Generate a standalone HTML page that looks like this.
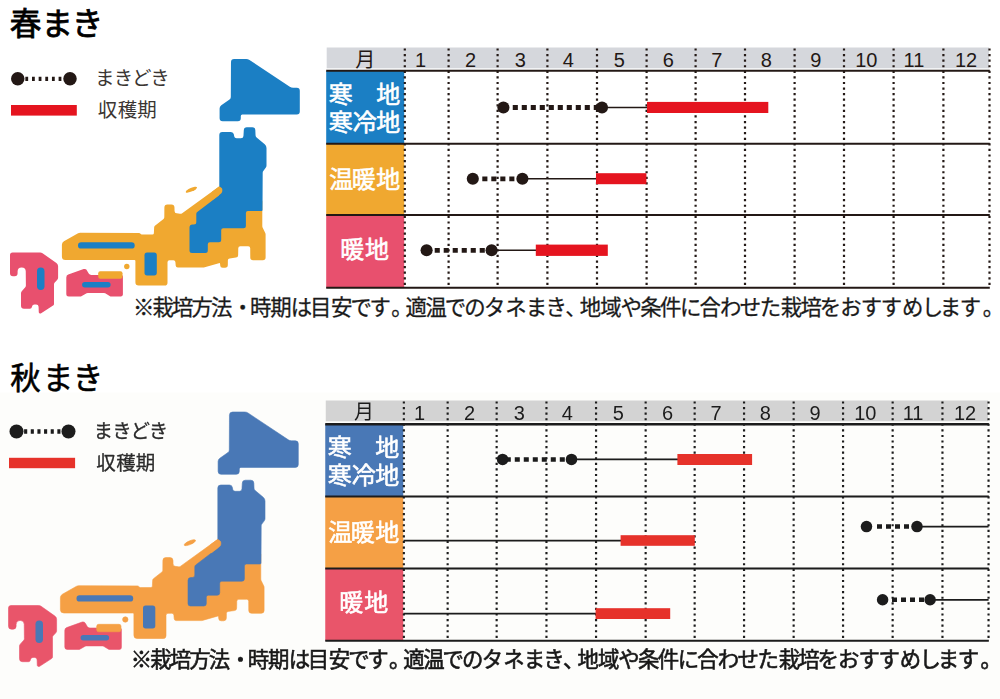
<!DOCTYPE html><html><head><meta charset="utf-8"><title>chart</title><style>html,body{margin:0;padding:0;background:#fff;font-family:"Liberation Sans",sans-serif}svg{display:block}text{font-family:"Liberation Sans","Noto Sans CJK JP",sans-serif}</style></head><body><svg width="1000" height="699" viewBox="0 0 1000 699" role="img" aria-label="春まき・秋まき 栽培カレンダー"><desc>春まき / 秋まき。凡例: まきどき、収穫期。月 1 2 3 4 5 6 7 8 9 10 11 12。寒地・寒冷地、温暖地、暖地。※栽培方法・時期は目安です。適温でのタネまき、地域や条件に合わせた栽培をおすすめします。</desc><defs><filter id="bl" x="-2%" y="-2%" width="104%" height="104%"><feGaussianBlur stdDeviation="0.5"/></filter></defs><text x="9.74 41.41 71.65" y="34.5" font-size="31.5" fill="#000" stroke="#000" stroke-width="0.8">春まき</text><line x1="25.35" y1="78.8" x2="65" y2="78.8" stroke="#231815" stroke-width="4.3" stroke-dasharray="2.8 3.85"/><circle cx="17.75" cy="78.8" r="6.75" fill="#231815"/><circle cx="70" cy="78.8" r="6.75" fill="#231815"/><rect x="11" y="105" width="65.8" height="10.6" fill="#e5141f"/><g fill="#3a3532"><text x="94.9 113.8 131.9 150.2" y="84.7" font-size="19.5">まきどき</text><text x="97.8 117.85 137.2" y="116.9" font-size="19.5">収穫期</text></g><g><path d="M179.99 213.84Q181 214 181.83 213.4L219.04 186.59Q219.3 186.4 219.62 186.4L223.66 186.4Q224 186.4 224.32 186.52L260.97 199.53Q262.3 200 262.3 201.41L262.3 226.06Q262.3 227 262.72 227.84L265.28 232.97Q265.6 233.6 265.6 234.31L265.6 257.5Q265.6 260.3 262.8 260.3L253.08 260.3Q250.3 260.3 250.28 257.52L250.21 248.29Q250.2 246.3 248.21 246.3L240.26 246.3Q238.3 246.3 238.26 248.26L238.14 255.14Q238.1 257.3 235.96 257.57L229.63 258.38Q227.9 258.6 227.88 260.34L227.83 265.03Q227.8 267.8 225.03 267.8L222.7 267.8Q220.2 267.8 220.15 265.3L220.13 264.1Q220.1 262.8 218.85 263.16L203.84 267.45Q203.3 267.6 202.74 267.6L177.72 267.6Q175.9 267.6 175.73 265.79L175.38 262.06Q175.2 260.2 173.33 260.25L169.45 260.35Q167.5 260.4 167.5 262.35L167.5 282.7Q167.5 285.5 164.7 285.5L138.6 285.5Q135.4 285.5 135.4 282.3L135.4 261Q135.4 260 134.4 260L65.4 260Q61.9 260 61.9 256.5L61.9 244.73Q61.9 242.4 63.93 241.25L78.08 233.22Q79 232.7 80.06 232.7L139.13 232.9Q139.5 232.9 139.78 233.14L141.22 234.36Q141.5 234.6 141.87 234.6L152.37 234.6Q153.8 234.6 153.87 233.17L154.16 227.21Q154.2 226.3 154.91 225.74L163.55 218.89Q164.3 218.3 164.31 217.34L164.38 207.58Q164.4 204.6 167.38 204.6L171.47 204.6Q174.4 204.6 174.47 207.53L174.55 210.91Q174.6 213 176.66 213.32Z" fill="#f0a830"/><ellipse cx="191.4" cy="189.7" rx="6.1" ry="1.8" transform="rotate(-23.6 191.4 189.7)" fill="#f0a830"/><circle cx="126.8" cy="266.5" r="2.7" fill="#f0a830"/><path d="M230.98 62.18Q231 59 234.18 59L246.19 59Q248 59 249.51 60L289.79 86.8Q291.3 87.8 293.11 87.8L296.8 87.8Q299.8 87.8 299.8 90.8L299.8 111.4Q299.8 114.4 296.8 114.4L242.3 114.4Q240.8 114.4 240.8 115.9L240.8 118.3Q240.8 121.3 237.8 121.3L222.6 121.3Q219.6 121.3 219.6 118.3L219.6 108.57Q219.6 106.5 221.29 105.3L229.54 99.49Q230.8 98.6 230.81 97.05Z" fill="#1b7fc4"/><path d="M219.3 135Q219.3 132 222.3 132L230.94 132Q233.5 132 233.9 134.53L234.17 136.19Q234.5 138.3 236.63 138.3L240.95 138.3Q243.3 138.3 243.45 135.96L243.82 130.01Q244 127.2 246.82 127.2L252.32 127.2Q255.2 127.2 255.32 130.07L255.54 135.28Q255.6 136.6 256.61 137.45L264.72 144.3Q266.5 145.8 266.5 148.12L266.5 165.47Q266.5 166.8 265.71 167.86L263.29 171.11Q262.7 171.9 262.69 172.89L262.51 210.01Q262.5 211 261.51 211L247.9 211Q245.9 211 245.9 213L245.9 225.7Q245.9 228.2 243.4 228.2L223.2 228.2Q221.2 228.2 221.2 230.2L221.2 239.7Q221.2 242.2 218.7 242.2L209.8 242.2Q207.8 242.2 207.8 244.2L207.8 250.5Q207.8 253 205.3 253L192 253Q189.5 253 189.5 250.5L189.5 227.5Q189.5 224.5 192.5 224.5L193.8 224.5Q196.3 224.5 196.3 222L196.3 213.93Q196.3 212.7 197.28 211.95L218.91 195.4Q219.3 195.1 219.3 194.61Z" fill="#1b7fc4"/><path d="M212 192.21Q212 191.7 212.41 191.4L218.74 186.81Q219.3 186.4 219.88 186.79L221.32 187.75Q222.3 188.4 222.3 189.58L222.3 191.12Q222.3 192.6 221.13 193.5L213.61 199.27Q212 200.5 212 198.47Z" fill="#f0a830"/><rect x="78" y="242.2" width="56.7" height="6.4" rx="3.2" fill='#1b7fc4'/><rect x="144.5" y="252.6" width="12.3" height="22.8" rx="2.6" fill='#1b7fc4'/><path d="M66.3 277.41Q66.3 275.3 68.28 274.58L83.65 269.04Q84.3 268.8 84.96 269.02L85.68 269.26Q86.4 269.5 86.78 270.15L88.73 273.51Q89.6 275 91.33 275L121.4 275Q122.9 275 122.9 276.5L122.9 294.6Q122.9 296.4 121.1 296.4L110.82 296.4Q110.4 296.4 110.04 296.18L105.2 293.26Q104.6 292.9 103.9 292.9L87.86 292.9Q87.2 292.9 86.63 293.22L81.34 296.21Q81 296.4 80.61 296.4L68.8 296.4Q66.3 296.4 66.3 293.9Z" fill="#e8506e"/><rect x="98.2" y="271.3" width="24.3" height="7.5" rx="2" fill="#f0a830"/><rect x="82.1" y="282" width="28.5" height="5.4" rx="2.7" fill='#1b7fc4'/><path d="M10 255Q10 252.5 12.5 252.5L40.22 252.5Q41.5 252.5 42.54 253.24L56.42 263.1Q58.1 264.3 58.1 266.36L58.1 277.82Q58.1 279 57.29 279.86L54.54 282.82Q54 283.4 54 284.19L54 303.91Q54 305 53.08 305.59L41.16 313.28Q40.5 313.7 39.78 313.4L39.4 313.25Q38.8 313 38.78 312.36L38.58 306.81Q38.5 304.4 36.09 304.4L34.48 304.4Q32.4 304.4 32.02 306.44L31.9 307.07Q31.6 308.7 29.94 308.7L24 308.7Q21 308.7 21 305.7L21 293.14Q21 292 21.76 291.15L25.26 287.22Q25.9 286.5 25.89 285.53L25.74 271.36Q25.7 267.4 21.74 267.4L21.6 267.4Q17.6 267.4 17.6 271.4L17.6 273.2Q17.6 276.2 14.6 276.2L13 276.2Q10 276.2 10 273.2Z" fill="#e8506e"/><rect x="37" y="267.5" width="7.5" height="22.5" rx="3.7" fill='#1b7fc4'/></g><rect x="326.7" y="47.5" width="662.3" height="20.8" fill="#d5d7dc"/><rect x="326.2" y="71" width="78" height="73" fill="#1b7fc4"/><rect x="326.2" y="144" width="78" height="71" fill="#f0a830"/><rect x="326.2" y="215" width="78" height="72.8" fill="#e8506e"/><line x1="404.8" y1="48.4" x2="404.8" y2="287.5" stroke="#231815" stroke-width="2.2" stroke-dasharray="2.2 3.38"/><line x1="448.6" y1="48.4" x2="448.6" y2="287.5" stroke="#231815" stroke-width="2.2" stroke-dasharray="2.2 3.38"/><line x1="497.6" y1="48.4" x2="497.6" y2="287.5" stroke="#231815" stroke-width="2.2" stroke-dasharray="2.2 3.38"/><line x1="547.4" y1="48.4" x2="547.4" y2="287.5" stroke="#231815" stroke-width="2.2" stroke-dasharray="2.2 3.38"/><line x1="597" y1="48.4" x2="597" y2="287.5" stroke="#231815" stroke-width="2.2" stroke-dasharray="2.2 3.38"/><line x1="646.6" y1="48.4" x2="646.6" y2="287.5" stroke="#231815" stroke-width="2.2" stroke-dasharray="2.2 3.38"/><line x1="695.6" y1="48.4" x2="695.6" y2="287.5" stroke="#231815" stroke-width="2.2" stroke-dasharray="2.2 3.38"/><line x1="745" y1="48.4" x2="745" y2="287.5" stroke="#231815" stroke-width="2.2" stroke-dasharray="2.2 3.38"/><line x1="794.6" y1="48.4" x2="794.6" y2="287.5" stroke="#231815" stroke-width="2.2" stroke-dasharray="2.2 3.38"/><line x1="844" y1="48.4" x2="844" y2="287.5" stroke="#231815" stroke-width="2.2" stroke-dasharray="2.2 3.38"/><line x1="893.6" y1="48.4" x2="893.6" y2="287.5" stroke="#231815" stroke-width="2.2" stroke-dasharray="2.2 3.38"/><line x1="943.4" y1="48.4" x2="943.4" y2="287.5" stroke="#231815" stroke-width="2.2" stroke-dasharray="2.2 3.38"/><line x1="989.5" y1="48.4" x2="989.5" y2="287.5" stroke="#231815" stroke-width="2.2" stroke-dasharray="2.2 3.38"/><line x1="326.2" y1="70.8" x2="989.8" y2="70.8" stroke="#231815" stroke-width="2"/><line x1="326.2" y1="143.8" x2="989.8" y2="143.8" stroke="#231815" stroke-width="2"/><line x1="326.2" y1="215.1" x2="989.8" y2="215.1" stroke="#231815" stroke-width="2"/><line x1="326.2" y1="287.8" x2="989.8" y2="287.8" stroke="#231815" stroke-width="2"/><text x="355.3" y="66.5" font-size="20" fill="#231815">月</text><g fill="#231815" font-size="20" text-anchor="middle"><text x="420.5" y="66.5">1</text><text x="470.5" y="66.5">2</text><text x="520.3" y="66.5">3</text><text x="568.2" y="66.5">4</text><text x="619.2" y="66.5">5</text><text x="668.4" y="66.5">6</text><text x="716.9" y="66.5">7</text><text x="766.3" y="66.5">8</text><text x="815.9" y="66.5">9</text><text x="866.3" y="66.5">10</text><text x="914" y="66.5">11</text><text x="966" y="66.5">12</text></g><g fill="#fff" stroke="#fff" stroke-width="0.6" font-size="24"><text x="328.8 376.3" y="103">寒地</text><text x="328.8 352.8 376.3" y="130.5">寒冷地</text><text x="329.2 351.8 376.3" y="188.1">温暖地</text><text x="340.3 365.1" y="258.2">暖地</text></g><line x1="602" y1="107.5" x2="648" y2="107.5" stroke="#231815" stroke-width="1.6"/><line x1="512.75" y1="107.5" x2="602" y2="107.5" stroke="#231815" stroke-width="4.8" stroke-dasharray="5.1 3.9"/><circle cx="503.4" cy="107.5" r="6.05" fill="#231815"/><circle cx="602" cy="107.5" r="6.05" fill="#231815"/><rect x="647" y="101.9" width="121.3" height="11.1" fill="#e5141f"/><line x1="522.4" y1="178.8" x2="597" y2="178.8" stroke="#231815" stroke-width="1.6"/><line x1="482.3" y1="178.8" x2="522.4" y2="178.8" stroke="#231815" stroke-width="4.8" stroke-dasharray="5.1 3.9"/><circle cx="472.8" cy="178.8" r="6.05" fill="#231815"/><circle cx="522.4" cy="178.8" r="6.05" fill="#231815"/><rect x="596" y="173.2" width="50.4" height="11" fill="#e5141f"/><line x1="491.6" y1="250.3" x2="537" y2="250.3" stroke="#231815" stroke-width="1.6"/><line x1="434.7" y1="250.3" x2="491.6" y2="250.3" stroke="#231815" stroke-width="4.8" stroke-dasharray="5.1 3.9"/><circle cx="426.6" cy="250.3" r="6.05" fill="#231815"/><circle cx="491.6" cy="250.3" r="6.05" fill="#231815"/><rect x="535.8" y="244.6" width="72" height="11.3" fill="#e5141f"/><text y="314.7" font-size="21.4" fill="#1a1a1a" stroke="#1a1a1a" stroke-width="0.28" x="133.05 152.55 172.05 191.55 211.05 232.05 250.05 270.15 290.85 310.05 331.05 350.55 369.45 391.2 405.45 425.55 444.75 464.25 484.05 505.35 525.85 545.55 565.29 579.75 600.15 620.45 640.25 660.05 680.05 699.55 719.95 739.75 759.75 780.85 800.55 819.75 840.25 860.75 880.65 902.05 921.75 939.85 959.85 982.8">※栽培方法・時期は目安です。適温でのタネまき、地域や条件に合わせた栽培をおすすめします。</text><rect x="0" y="392.5" width="1000" height="306.5" fill="#fdfdfb"/><text x="10.33 42.66 72.75" y="388.7" font-size="30.5" fill="#000" stroke="#000" stroke-width="0.6">秋まき</text><g filter="url(#bl)"><g transform="translate(-1.5 353)"><line x1="25.6" y1="78.5" x2="65" y2="78.5" stroke="#1c1c1c" stroke-width="4.7" stroke-dasharray="3.1 3.55"/><circle cx="18" cy="78.5" r="7" fill="#1c1c1c"/><circle cx="70" cy="78.5" r="7" fill="#1c1c1c"/><rect x="10.5" y="104.8" width="66.1" height="10.4" fill="#e6302a"/><g fill="#2c2c2c" stroke="#2c2c2c" stroke-width="0.3"><text x="94.9 113.8 131.9 150.2" y="85.1" font-size="19.5">まきどき</text><text x="97.8 117.85 137.2" y="117.3" font-size="19.5">収穫期</text></g><g stroke-width="0.6" stroke-linejoin="round"><path d="M179.99 213.84Q181 214 181.83 213.4L219.04 186.59Q219.3 186.4 219.62 186.4L223.66 186.4Q224 186.4 224.32 186.52L260.97 199.53Q262.3 200 262.3 201.41L262.3 226.06Q262.3 227 262.72 227.84L265.28 232.97Q265.6 233.6 265.6 234.31L265.6 257.5Q265.6 260.3 262.8 260.3L253.08 260.3Q250.3 260.3 250.28 257.52L250.21 248.29Q250.2 246.3 248.21 246.3L240.26 246.3Q238.3 246.3 238.26 248.26L238.14 255.14Q238.1 257.3 235.96 257.57L229.63 258.38Q227.9 258.6 227.88 260.34L227.83 265.03Q227.8 267.8 225.03 267.8L222.7 267.8Q220.2 267.8 220.15 265.3L220.13 264.1Q220.1 262.8 218.85 263.16L203.84 267.45Q203.3 267.6 202.74 267.6L177.72 267.6Q175.9 267.6 175.73 265.79L175.38 262.06Q175.2 260.2 173.33 260.25L169.45 260.35Q167.5 260.4 167.5 262.35L167.5 282.7Q167.5 285.5 164.7 285.5L138.6 285.5Q135.4 285.5 135.4 282.3L135.4 261Q135.4 260 134.4 260L65.4 260Q61.9 260 61.9 256.5L61.9 244.73Q61.9 242.4 63.93 241.25L78.08 233.22Q79 232.7 80.06 232.7L139.13 232.9Q139.5 232.9 139.78 233.14L141.22 234.36Q141.5 234.6 141.87 234.6L152.37 234.6Q153.8 234.6 153.87 233.17L154.16 227.21Q154.2 226.3 154.91 225.74L163.55 218.89Q164.3 218.3 164.31 217.34L164.38 207.58Q164.4 204.6 167.38 204.6L171.47 204.6Q174.4 204.6 174.47 207.53L174.55 210.91Q174.6 213 176.66 213.32Z" fill="#f5a044" stroke="#f5a044"/><ellipse cx="191.4" cy="189.7" rx="6.1" ry="1.8" transform="rotate(-23.6 191.4 189.7)" fill="#f5a044" stroke="#f5a044"/><circle cx="126.8" cy="266.5" r="2.7" fill="#f5a044" stroke="#f5a044"/><path d="M230.98 62.18Q231 59 234.18 59L246.19 59Q248 59 249.51 60L289.79 86.8Q291.3 87.8 293.11 87.8L296.8 87.8Q299.8 87.8 299.8 90.8L299.8 111.4Q299.8 114.4 296.8 114.4L242.3 114.4Q240.8 114.4 240.8 115.9L240.8 118.3Q240.8 121.3 237.8 121.3L222.6 121.3Q219.6 121.3 219.6 118.3L219.6 108.57Q219.6 106.5 221.29 105.3L229.54 99.49Q230.8 98.6 230.81 97.05Z" fill="#4978b6" stroke="#4978b6"/><path d="M219.3 135Q219.3 132 222.3 132L230.94 132Q233.5 132 233.9 134.53L234.17 136.19Q234.5 138.3 236.63 138.3L240.95 138.3Q243.3 138.3 243.45 135.96L243.82 130.01Q244 127.2 246.82 127.2L252.32 127.2Q255.2 127.2 255.32 130.07L255.54 135.28Q255.6 136.6 256.61 137.45L264.72 144.3Q266.5 145.8 266.5 148.12L266.5 165.47Q266.5 166.8 265.71 167.86L263.29 171.11Q262.7 171.9 262.69 172.89L262.51 210.01Q262.5 211 261.51 211L247.9 211Q245.9 211 245.9 213L245.9 225.7Q245.9 228.2 243.4 228.2L223.2 228.2Q221.2 228.2 221.2 230.2L221.2 239.7Q221.2 242.2 218.7 242.2L209.8 242.2Q207.8 242.2 207.8 244.2L207.8 250.5Q207.8 253 205.3 253L192 253Q189.5 253 189.5 250.5L189.5 227.5Q189.5 224.5 192.5 224.5L193.8 224.5Q196.3 224.5 196.3 222L196.3 213.93Q196.3 212.7 197.28 211.95L218.91 195.4Q219.3 195.1 219.3 194.61Z" fill="#4978b6" stroke="#4978b6"/><path d="M212 192.21Q212 191.7 212.41 191.4L218.74 186.81Q219.3 186.4 219.88 186.79L221.32 187.75Q222.3 188.4 222.3 189.58L222.3 191.12Q222.3 192.6 221.13 193.5L213.61 199.27Q212 200.5 212 198.47Z" fill="#f5a044" stroke="#f5a044"/><rect x="78" y="242.2" width="56.7" height="6.4" rx="3.2" fill='#4978b6'/><rect x="144.5" y="252.6" width="12.3" height="22.8" rx="2.6" fill='#4978b6'/><path d="M66.3 277.41Q66.3 275.3 68.28 274.58L83.65 269.04Q84.3 268.8 84.96 269.02L85.68 269.26Q86.4 269.5 86.78 270.15L88.73 273.51Q89.6 275 91.33 275L121.4 275Q122.9 275 122.9 276.5L122.9 294.6Q122.9 296.4 121.1 296.4L110.82 296.4Q110.4 296.4 110.04 296.18L105.2 293.26Q104.6 292.9 103.9 292.9L87.86 292.9Q87.2 292.9 86.63 293.22L81.34 296.21Q81 296.4 80.61 296.4L68.8 296.4Q66.3 296.4 66.3 293.9Z" fill="#e9546b" stroke="#e9546b"/><rect x="98.2" y="271.3" width="24.3" height="7.5" rx="2" fill="#f5a044" stroke="#f5a044"/><rect x="82.1" y="282" width="28.5" height="5.4" rx="2.7" fill='#4978b6'/><path d="M10 255Q10 252.5 12.5 252.5L40.22 252.5Q41.5 252.5 42.54 253.24L56.42 263.1Q58.1 264.3 58.1 266.36L58.1 277.82Q58.1 279 57.29 279.86L54.54 282.82Q54 283.4 54 284.19L54 303.91Q54 305 53.08 305.59L41.16 313.28Q40.5 313.7 39.78 313.4L39.4 313.25Q38.8 313 38.78 312.36L38.58 306.81Q38.5 304.4 36.09 304.4L34.48 304.4Q32.4 304.4 32.02 306.44L31.9 307.07Q31.6 308.7 29.94 308.7L24 308.7Q21 308.7 21 305.7L21 293.14Q21 292 21.76 291.15L25.26 287.22Q25.9 286.5 25.89 285.53L25.74 271.36Q25.7 267.4 21.74 267.4L21.6 267.4Q17.6 267.4 17.6 271.4L17.6 273.2Q17.6 276.2 14.6 276.2L13 276.2Q10 276.2 10 273.2Z" fill="#e9546b" stroke="#e9546b"/><rect x="37" y="267.5" width="7.5" height="22.5" rx="3.7" fill='#4978b6'/></g><text y="314.2" font-size="21.4" fill="#1a1a1a" stroke="#1a1a1a" stroke-width="0.6" x="132.35 151.85 171.35 190.85 210.35 231.35 249.35 269.45 290.15 309.35 330.35 349.85 368.75 390.5 404.75 424.85 444.05 463.55 483.35 504.65 525.15 544.85 564.59 579.05 599.45 619.75 639.55 659.35 679.35 698.85 719.25 739.05 759.05 780.15 799.85 819.05 839.55 860.05 879.95 901.35 921.05 939.15 959.15 982.1">※栽培方法・時期は目安です。適温でのタネまき、地域や条件に合わせた栽培をおすすめします。</text></g><g transform="translate(-0.95 353)"><rect x="326.7" y="47.5" width="662.3" height="20.8" fill="#d3d3d3"/><rect x="326.2" y="71" width="78" height="73" fill="#4978b6"/><rect x="326.2" y="144" width="78" height="71" fill="#f5a044"/><rect x="326.2" y="215" width="78" height="72.8" fill="#e9546b"/><line x1="404.8" y1="48.4" x2="404.8" y2="287.5" stroke="#1c1c1c" stroke-width="2.15" stroke-dasharray="2.15 3.43"/><line x1="448.6" y1="48.4" x2="448.6" y2="287.5" stroke="#1c1c1c" stroke-width="2.15" stroke-dasharray="2.15 3.43"/><line x1="497.6" y1="48.4" x2="497.6" y2="287.5" stroke="#1c1c1c" stroke-width="2.15" stroke-dasharray="2.15 3.43"/><line x1="547.4" y1="48.4" x2="547.4" y2="287.5" stroke="#1c1c1c" stroke-width="2.15" stroke-dasharray="2.15 3.43"/><line x1="597" y1="48.4" x2="597" y2="287.5" stroke="#1c1c1c" stroke-width="2.15" stroke-dasharray="2.15 3.43"/><line x1="646.6" y1="48.4" x2="646.6" y2="287.5" stroke="#1c1c1c" stroke-width="2.15" stroke-dasharray="2.15 3.43"/><line x1="695.6" y1="48.4" x2="695.6" y2="287.5" stroke="#1c1c1c" stroke-width="2.15" stroke-dasharray="2.15 3.43"/><line x1="745" y1="48.4" x2="745" y2="287.5" stroke="#1c1c1c" stroke-width="2.15" stroke-dasharray="2.15 3.43"/><line x1="794.6" y1="48.4" x2="794.6" y2="287.5" stroke="#1c1c1c" stroke-width="2.15" stroke-dasharray="2.15 3.43"/><line x1="844" y1="48.4" x2="844" y2="287.5" stroke="#1c1c1c" stroke-width="2.15" stroke-dasharray="2.15 3.43"/><line x1="893.6" y1="48.4" x2="893.6" y2="287.5" stroke="#1c1c1c" stroke-width="2.15" stroke-dasharray="2.15 3.43"/><line x1="943.4" y1="48.4" x2="943.4" y2="287.5" stroke="#1c1c1c" stroke-width="2.15" stroke-dasharray="2.15 3.43"/><line x1="989.5" y1="48.4" x2="989.5" y2="287.5" stroke="#1c1c1c" stroke-width="2.15" stroke-dasharray="2.15 3.43"/><line x1="326.2" y1="71.3" x2="989.8" y2="71.3" stroke="#1c1c1c" stroke-width="2.5"/><line x1="326.2" y1="143.5" x2="989.8" y2="143.5" stroke="#1c1c1c" stroke-width="2"/><line x1="326.2" y1="215.4" x2="989.8" y2="215.4" stroke="#1c1c1c" stroke-width="2"/><line x1="326.2" y1="287.7" x2="989.8" y2="287.7" stroke="#1c1c1c" stroke-width="2"/><text x="355" y="66" font-size="20" fill="#1c1c1c">月</text><g fill="#1c1c1c" font-size="20" text-anchor="middle"><text x="420.5" y="66.5">1</text><text x="470.5" y="66.5">2</text><text x="520.3" y="66.5">3</text><text x="568.2" y="66.5">4</text><text x="619.2" y="66.5">5</text><text x="668.4" y="66.5">6</text><text x="716.9" y="66.5">7</text><text x="766.3" y="66.5">8</text><text x="815.9" y="66.5">9</text><text x="866.3" y="66.5">10</text><text x="914" y="66.5">11</text><text x="966" y="66.5">12</text></g><g fill="#fff" stroke="#fff" stroke-width="0.6" font-size="24"><text x="328.8 376.3" y="103">寒地</text><text x="328.8 352.8 376.3" y="130.5">寒冷地</text><text x="329.2 351.8 376.3" y="188.1">温暖地</text><text x="340.3 365.1" y="258.2">暖地</text></g><line x1="572.45" y1="106.4" x2="678.95" y2="106.4" stroke="#1c1c1c" stroke-width="1.75"/><line x1="506.75" y1="106.4" x2="572.45" y2="106.4" stroke="#1c1c1c" stroke-width="4.5" stroke-dasharray="5 4"/><circle cx="503.55" cy="106.4" r="5.75" fill="#1c1c1c"/><circle cx="572.45" cy="106.4" r="5.75" fill="#1c1c1c"/><rect x="678.35" y="101" width="74.7" height="11" fill="#e6302a"/><line x1="404.45" y1="187.6" x2="621.95" y2="187.6" stroke="#1c1c1c" stroke-width="1.75"/><rect x="621.55" y="182.2" width="74.2" height="10.6" fill="#e6302a"/><line x1="917.95" y1="173.6" x2="989.55" y2="173.6" stroke="#1c1c1c" stroke-width="1.75"/><line x1="877.95" y1="173.6" x2="917.95" y2="173.6" stroke="#1c1c1c" stroke-width="4.5" stroke-dasharray="5 4"/><circle cx="867.45" cy="173.6" r="5.75" fill="#1c1c1c"/><circle cx="917.95" cy="173.6" r="5.75" fill="#1c1c1c"/><line x1="404.45" y1="260.6" x2="596.95" y2="260.6" stroke="#1c1c1c" stroke-width="1.75"/><rect x="596.55" y="255.2" width="74.6" height="10.8" fill="#e6302a"/><line x1="931.05" y1="246.8" x2="989.55" y2="246.8" stroke="#1c1c1c" stroke-width="1.75"/><line x1="892.95" y1="246.8" x2="931.05" y2="246.8" stroke="#1c1c1c" stroke-width="4.5" stroke-dasharray="5 4"/><circle cx="883.55" cy="246.8" r="5.75" fill="#1c1c1c"/><circle cx="931.05" cy="246.8" r="5.75" fill="#1c1c1c"/></g></g></svg></body></html>
